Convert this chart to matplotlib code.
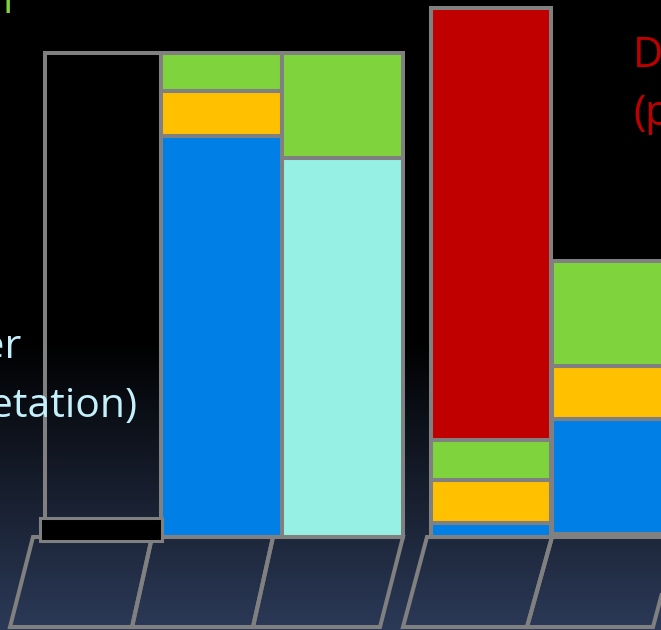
import numpy as np
import matplotlib.pyplot as plt
from matplotlib.patches import Polygon, Rectangle

# ---- data: stacked segment heights, listed bottom to top ----
outline_total = 484
interp_stack = [401, 45.5, 37.5]          # blue, yellow, green
interp_alt_stack = [379, 105]             # cyan, green
data_stack = [14.5, 42.5, 40, 432]        # blue, yellow, green, red
data_alt_stack = [115, 53, 105]           # blue, yellow, green
data_alt_base = 3

left_labels = ["Interpreter", "(interpretation)"]
right_label = "Data\n(program)"
top_label = "l"

BLUE = "#0080e6"
YELLOW = "#ffc000"
GREEN = "#7fd33c"
CYAN = "#96f0e4"
RED = "#c00000"
EDGE = "#808080"
LW = 2.9

W, H = 661, 630
fig = plt.figure(figsize=(W / 100, H / 100), dpi=100)
ax = fig.add_axes([0, 0, 1, 1])
ax.set_xlim(0, W)
ax.set_ylim(-93, 537)
ax.axis("off")

# background: black fading into dark navy towards the bottom
rows = np.arange(H)
t = np.clip((rows - 340) / (H - 340), 0, 1)[:, None]
navy = np.array([44, 58, 88]) / 255.0
grad = (t * navy)[:, None, :].repeat(2, axis=1)
ax.imshow(grad, extent=(0, W, -93, 537), aspect="auto", origin="upper", zorder=0)


def stack(xc, width, values, colors, base=0):
    bottom = base
    for v, c in zip(values, colors):
        ax.bar(xc, v, width=width, bottom=bottom, color=c, edgecolor=EDGE,
               linewidth=LW, zorder=3)
        bottom += v


# empty outline column
ax.bar(103.2, outline_total, width=116.3, bottom=0, facecolor="none",
       edgecolor=EDGE, linewidth=LW, zorder=3)
ax.add_patch(Rectangle((40, -4), 122, 23, facecolor="black", edgecolor=EDGE,
                       linewidth=2.2, zorder=4))

stack(221.4, 120.2, interp_stack, [BLUE, YELLOW, GREEN])
stack(342.0, 121.0, interp_alt_stack, [CYAN, GREEN])
stack(491.2, 120.3, data_stack, [BLUE, YELLOW, GREEN, RED])
stack(612.0, 121.0, data_alt_stack, [BLUE, YELLOW, GREEN], base=data_alt_base)

# slanted floor tiles under the columns
tile_top = [(33, 152), (152, 273), (273, 403), (427, 552), (552, 677)]
tile_bot = [(10, 132), (132, 253), (253, 380), (403, 527), (527, 653)]
for (t0, t1), (b0, b1) in zip(tile_top, tile_bot):
    ax.add_patch(Polygon([(b0, -90), (t0, 0), (t1, 0), (b1, -90)], closed=True,
                         facecolor="none", edgecolor=EDGE, linewidth=LW,
                         zorder=2, joinstyle="miter"))

font = "Open Sans"
ax.text(2, 537 - 13, top_label, color=GREEN, fontsize=30, family=font,
        ha="left", va="baseline", zorder=5)
ax.text(21, 537 - 358, left_labels[0], color="#c4f0fb", fontsize=29.5,
        family=font, ha="right", va="baseline", zorder=5)
ax.text(137, 537 - 417, left_labels[1], color="#c4f0fb", fontsize=29.5,
        family=font, ha="right", va="baseline", zorder=5)
ax.text(633, 537 - 67, "Data", color=RED, fontsize=30, family=font,
        ha="left", va="baseline", zorder=5)
ax.text(633, 537 - 125, "(program)", color=RED, fontsize=30, family=font,
        ha="left", va="baseline", zorder=5)

fig.savefig("out.png", dpi=100)
